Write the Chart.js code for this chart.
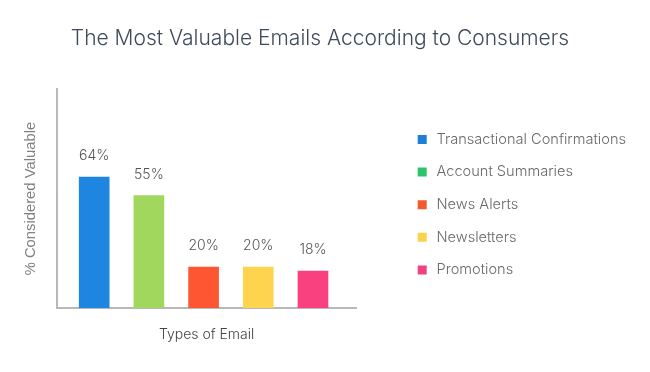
<!DOCTYPE html>
<html lang="en">
  <head>
    <meta charset="UTF-8" />
    <title>The Most Valuable Emails According to Consumers</title>
    <script src="https://cdn.jsdelivr.net/npm/chart.js"></script>
    <style>
      html, body { margin: 0; padding: 0; background: #fff; }
      .box { width: 650px; height: 372px; }
    </style>
  </head>
  <body>
    <div class="box">
      <canvas id="myChart" width="650" height="372"></canvas>
    </div>

    <script>
      // dados do grafico
      const categorias = ["Transactional Confirmations", "Account Summaries", "News Alerts", "Newsletters", "Promotions"];
      const valores = [64, 55, 20, 20, 18];
      const coresBarras = ["#1e86e0", "#a1d75c", "#fe5533", "#fed44f", "#f9417f"];
      const coresLegenda = ["#1f7fd8", "#2ec46e", "#f4592e", "#fcd24c", "#f04182"];

      // rotulos de valor em cima das barras
      const rotulos = {
        id: "rotulos",
        afterDatasetsDraw(chart) {
          const ctx = chart.ctx;
          const meta = chart.getDatasetMeta(0);
          ctx.save();
          ctx.font = "300 14px Inter, 'Noto Sans', sans-serif";
          ctx.fillStyle = "#555";
          ctx.textAlign = "center";
          ctx.textBaseline = "middle";
          meta.data.forEach(function (bar, i) {
            ctx.fillText(valores[i] + "%", bar.x, bar.y - 21);
          });
          ctx.restore();
        },
      };

      const pontos = [];
      for (let i = 0; i < valores.length; i++) {
        pontos.push({ x: i, y: valores[i] });
      }

      const config = {
        type: "bar",
        data: {
          datasets: [
            {
              label: "% Considered Valuable",
              data: pontos,
              backgroundColor: coresBarras,
              barThickness: 30,
            },
          ],
        },
        options: {
          responsive: false,
          animation: false,
          layout: { padding: { top: 14, left: 4, right: 14, bottom: 29 } },
          plugins: {
            tooltip: { enabled: false },
            title: {
              display: true,
              text: "The Most Valuable Emails According to Consumers",
              color: "#3d4b5c",
              font: { family: "Inter, 'Noto Sans', sans-serif", size: 21, weight: "300" },
              padding: { top: 12, bottom: 38 },
            },
            legend: {
              position: "right",
              align: "start",
              fullSize: false,
              maxWidth: 300,
              title: { display: true, text: "", font: { size: 10 }, padding: { top: 13, bottom: 0 } },
              labels: {
                boxWidth: 14,
                boxHeight: 14,
                padding: 18,
                color: "#6a6a6a",
                font: { family: "Inter, 'Noto Sans', sans-serif", size: 14.6, weight: "300" },
                generateLabels: function () {
                  return categorias.map(function (nome, i) {
                    return {
                      text: nome,
                      fillStyle: coresLegenda[i],
                      strokeStyle: "#fff",
                      lineWidth: 5,
                      fontColor: "#6a6a6a",
                      index: i,
                    };
                  });
                },
              },
            },
          },
          scales: {
            x: {
              type: "linear",
              offset: false,
              min: -0.68,
              max: 4.79,
              grid: { display: false, drawTicks: false },
              ticks: { display: false },
              border: { color: "#b8b8b8", width: 2 },
              title: {
                display: true,
                text: "Types of Email",
                color: "#444",
                font: { family: "Inter, 'Noto Sans', sans-serif", size: 14, weight: "300" },
                padding: { top: 18, bottom: 0 },
              },
              afterFit: function (escala) {
                escala.height = 35;
              },
            },
            y: {
              min: 0,
              max: 107,
              grid: { display: false, drawTicks: false },
              ticks: { display: false },
              border: { color: "#b8b8b8", width: 2 },
              title: {
                display: true,
                text: "% Considered Valuable",
                color: "#808080",
                font: { family: "'Liberation Sans', Arial, sans-serif", size: 14.8 },
                padding: { top: 18, bottom: 4 },
              },
              afterFit: function (escala) {
                escala.width = 53;
              },
            },
            // eixo vazio so para abrir espaco antes da legenda
            folga: {
              position: "right",
              grid: { display: false },
              ticks: { display: false },
              border: { display: false },
              afterFit: function (escala) {
                escala.width = 41;
              },
            },
          },
        },
        plugins: [rotulos],
      };

      var myChart = new Chart(document.getElementById("myChart"), config);
    </script>
  </body>
</html>
